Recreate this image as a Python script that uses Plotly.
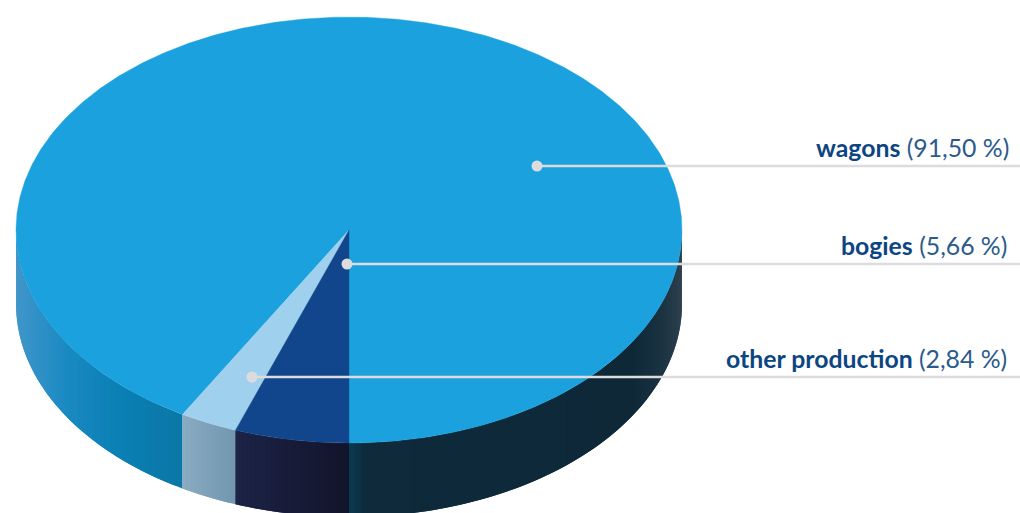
import math
import plotly.graph_objects as go

# Production shares, in percent
categories = ["bogies", "other production", "wagons"]
shares = [5.66, 2.84, 91.50]
share_labels = ["5,66", "2,84", "91,50"]

TOP_COLORS = {"bogies": "#12468c", "other production": "#9fd0ee", "wagons": "#1aa1de"}

# Shading of the rim, as (position across the wall, colour)
WALL_SHADES = {
    "bogies": [(0.0, "#1c2346"), (1.0, "#12142a")],
    "other production": [(0.0, "#8aacc3"), (1.0, "#7196ae")],
    "wagons left": [(0.0, "#4196ca"), (0.3, "#1a8ac2"), (0.6, "#0a80b5"), (1.0, "#0b77a5")],
    "wagons right": [(0.0, "#0b3b52"), (0.05, "#0e2a3b"), (0.85, "#0e2838"), (0.94, "#1a3342"), (1.0, "#2e414e")],
}

# Projection of the disc onto the page
CX, CY = 349.0, 230.0
RX, RY = 333.0, 213.0
DEPTH = 74.0
FORESHORTENING = 0.012

LEADER_COLOR = "#dcdcdf"
LABEL_COLOR = "#0c4682"
VALUE_COLOR = "#2a5b8c"
FONT = "Lato"
FONT_SIZE = 24.8

# Label anchors: leader start (x, y) for each category
LEADERS = {"wagons": (537, 166), "bogies": (347, 264), "other production": (252, 377)}
LABEL_RIGHT = {"wagons": 1010, "bogies": 1008, "other production": 1008}


def rim_point(theta, drop=0.0):
    """Point on the rim; theta runs clockwise from the front of the disc."""
    view = theta - FORESHORTENING * math.sin(2 * theta)
    return CX - RX * math.sin(view), CY + RY * math.cos(view) + drop


def lerp_color(stops, t):
    for (t0, c0), (t1, c1) in zip(stops, stops[1:]):
        if t <= t1:
            f = (t - t0) / (t1 - t0) if t1 > t0 else 0
            a = [int(c0[i:i + 2], 16) for i in (1, 3, 5)]
            b = [int(c1[i:i + 2], 16) for i in (1, 3, 5)]
            return "rgb({},{},{})".format(*[round(p + (q - p) * f) for p, q in zip(a, b)])
    return stops[-1][1]


def add_poly(fig, xs, ys, color, stroke=0.0):
    fig.add_trace(go.Scatter(
        x=xs, y=ys, mode="lines", fill="toself", fillcolor=color,
        line=dict(color=color, width=stroke), hoverinfo="skip", showlegend=False,
    ))


def add_wall(fig, start, end, stops):
    """Rim section between two angles; each shaded strip runs on under the next one."""
    x_a, x_b = rim_point(start)[0], rim_point(end)[0]
    lo, hi = min(x_a, x_b), max(x_a, x_b)
    n = max(6, int((hi - lo) / 4))
    for i in range(n):
        t0 = start + (end - start) * i / n
        t1 = start + (end - start) * min(i + 2, n) / n
        tm = start + (end - start) * (i + 0.5) / n
        arc = [rim_point(t0 + (t1 - t0) * k / 6) for k in range(7)]
        xs = [p[0] for p in arc] + [p[0] for p in reversed(arc)] + [arc[0][0]]
        ys = [p[1] for p in arc] + [p[1] + DEPTH for p in reversed(arc)] + [arc[0][1]]
        color = lerp_color(stops, (rim_point(tm)[0] - lo) / (hi - lo))
        add_poly(fig, xs, ys, color)


fig = go.Figure()

# Slice boundaries, accumulated clockwise from the front of the disc
bounds = {}
acc = 0.0
for name, share in zip(categories, shares):
    bounds[name] = (acc * 2 * math.pi / 100, (acc + share) * 2 * math.pi / 100)
    acc += share

# Rim
add_wall(fig, bounds["wagons"][0], math.pi / 2, WALL_SHADES["wagons left"])
add_wall(fig, 0.0, -math.pi / 2, WALL_SHADES["wagons right"])
add_wall(fig, *bounds["other production"], WALL_SHADES["other production"])
add_wall(fig, *bounds["bogies"], WALL_SHADES["bogies"])

# Top face
for name in ["wagons", "other production", "bogies"]:
    a, b = bounds[name]
    steps = max(4, int((b - a) * 120))
    pts = [rim_point(a + (b - a) * i / steps) for i in range(steps + 1)]
    xs = [CX] + [p[0] for p in pts] + [CX]
    ys = [CY] + [p[1] for p in pts] + [CY]
    add_poly(fig, xs, ys, TOP_COLORS[name], stroke=0.4)

# Leader lines with their dots
for name, (lx, ly) in LEADERS.items():
    fig.add_trace(go.Scatter(
        x=[lx, 1020], y=[ly, ly], mode="lines",
        line=dict(color=LEADER_COLOR, width=2.5), hoverinfo="skip", showlegend=False,
    ))
    fig.add_trace(go.Scatter(
        x=[lx], y=[ly], mode="markers",
        marker=dict(color=LEADER_COLOR, size=11, line=dict(width=0)),
        hoverinfo="skip", showlegend=False,
    ))

# Labels sit just above their leaders
for name, value in zip(categories, share_labels):
    ly = LEADERS[name][1]
    fig.add_annotation(
        x=LABEL_RIGHT[name], y=ly - 3, xref="x", yref="y",
        xanchor="right", yanchor="bottom", showarrow=False,
        align="right",
        text=f'<b>{name}</b> <span style="color:{VALUE_COLOR}">({value} %)</span>',
        font=dict(family=FONT, size=FONT_SIZE, color=LABEL_COLOR),
        borderpad=0,
    )

fig.update_layout(
    width=1020, height=513,
    margin=dict(l=0, r=0, t=0, b=0),
    paper_bgcolor="white", plot_bgcolor="white",
    xaxis=dict(range=[0, 1020], visible=False, fixedrange=True),
    yaxis=dict(range=[513, 0], visible=False, fixedrange=True),
    showlegend=False,
)

fig.write_html("out.html", config={"displayModeBar": False, "staticPlot": True})
